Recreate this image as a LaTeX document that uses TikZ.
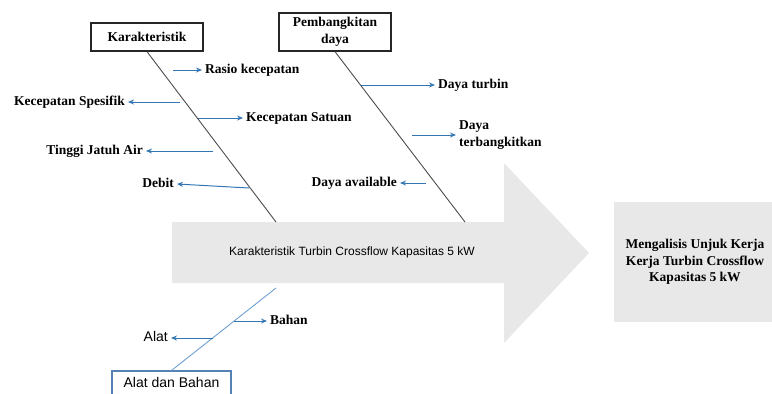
\documentclass[tikz,border=0pt]{standalone}
\usepackage{fontspec}
\setmainfont{Liberation Serif}
\setsansfont{Liberation Sans}
\usetikzlibrary{arrows.meta}

\definecolor{subblue}{RGB}{52,118,180}
\definecolor{bonelightblue}{RGB}{110,160,210}
\definecolor{boxblue}{RGB}{84,130,180}
\definecolor{shadegray}{RGB}{232,232,232}

\begin{document}
\begin{tikzpicture}[x=1pt, y=-1pt,
  lbl/.style={font=\fontsize{13.5}{16.5}\selectfont\bfseries, inner ysep=0pt, inner xsep=3pt, text height=9pt, text depth=3pt},
  lbltwo/.style={font=\fontsize{13.5}{16.5}\selectfont\bfseries, inner ysep=0pt, inner xsep=3pt, align=left},
  sanslbl/.style={font=\sffamily\fontsize{14}{16}\selectfont, inner ysep=0pt, inner xsep=3pt, text height=10pt, text depth=3pt},
  catbox/.style={draw=black!85, line width=1.3pt, minimum width=112pt, align=center, font=\fontsize{13.5}{16.5}\selectfont\bfseries},
  bone/.style={black!70, line width=0.9pt},
  sub/.style={subblue, line width=1pt, -{Stealth[length=6pt,width=5pt]}}]
  \clip (0,0) rectangle (772,394);
  % spine arrow and effect box
  \fill[shadegray] (172,222) -- (504,222) -- (504,163) -- (589,253) -- (504,343) -- (504,283) -- (172,283) -- cycle;
  \node[font=\sffamily\fontsize{12}{14}\selectfont] (spine) at (352,252) {Karakteristik Turbin Crossflow Kapasitas 5 kW};
  \node[fill=shadegray, minimum width=162pt, minimum height=120pt, align=center, font=\fontsize{13.5}{16.5}\selectfont\bfseries] (effect) at (695,262) {Mengalisis Unjuk Kerja\\Kerja Turbin Crossflow\\Kapasitas 5 kW};
  % category boxes
  \node[catbox, minimum height=28pt] (karak) at (147,37) {Karakteristik};
  \node[catbox, minimum height=38pt] (power) at (335,32) {Pembangkitan\\daya};
  \node[sanslbl, draw=boxblue, line width=1.1pt, minimum width=119pt, minimum height=26pt] (tools) at (171.5,384) {Alat dan Bahan};
  % bones
  \coordinate (spine-a) at (276,222);
  \coordinate (spine-b) at (465,222);
  \coordinate (spine-c) at (276,288);
  \draw[bone] (karak.south) -- (spine-a);
  \draw[bone] (power.south) -- (spine-b);
  \draw[bonelightblue, line width=0.9pt] (spine-c) -- (tools.north);
  % causes pointing right
  \foreach \nm/\sx/\ex/\y/\txt in {rasio/173/202/70/Rasio kecepatan, satuan/198/243/118/Kecepatan Satuan, turbin/361/435/85/Daya turbin, bahan/234/267/321/Bahan}
  {
    \coordinate (\nm-s) at (\sx,\y);
    \node[lbl, anchor=west] (\nm) at (\ex,\y) {\txt};
    \draw[sub] (\nm-s) -- (\nm.west);
  }
  % causes pointing left
  \foreach \nm/\sx/\sy/\ex/\y/\txt in {spesifik/180/102/128/102/Kecepatan Spesifik, tinggi/213/151/146/151/Tinggi Jatuh Air, debit/249/188/177/184/Debit, available/426/183/400/183/Daya available}
  {
    \coordinate (\nm-s) at (\sx,\sy);
    \node[lbl, anchor=east] (\nm) at (\ex,\y) {\txt};
    \draw[sub] (\nm-s) -- (\nm.east);
  }
  \coordinate (terb-s) at (412,135);
  \node[lbltwo, anchor=west] (terb) at (456,135) {Daya\\terbangkitkan};
  \draw[sub] (terb-s) -- (terb.west);
  \coordinate (alat-s) at (213,338);
  \node[sanslbl, anchor=east] (alat) at (171,338) {Alat};
  \draw[sub] (alat-s) -- (alat.east);
\end{tikzpicture}
\end{document}
